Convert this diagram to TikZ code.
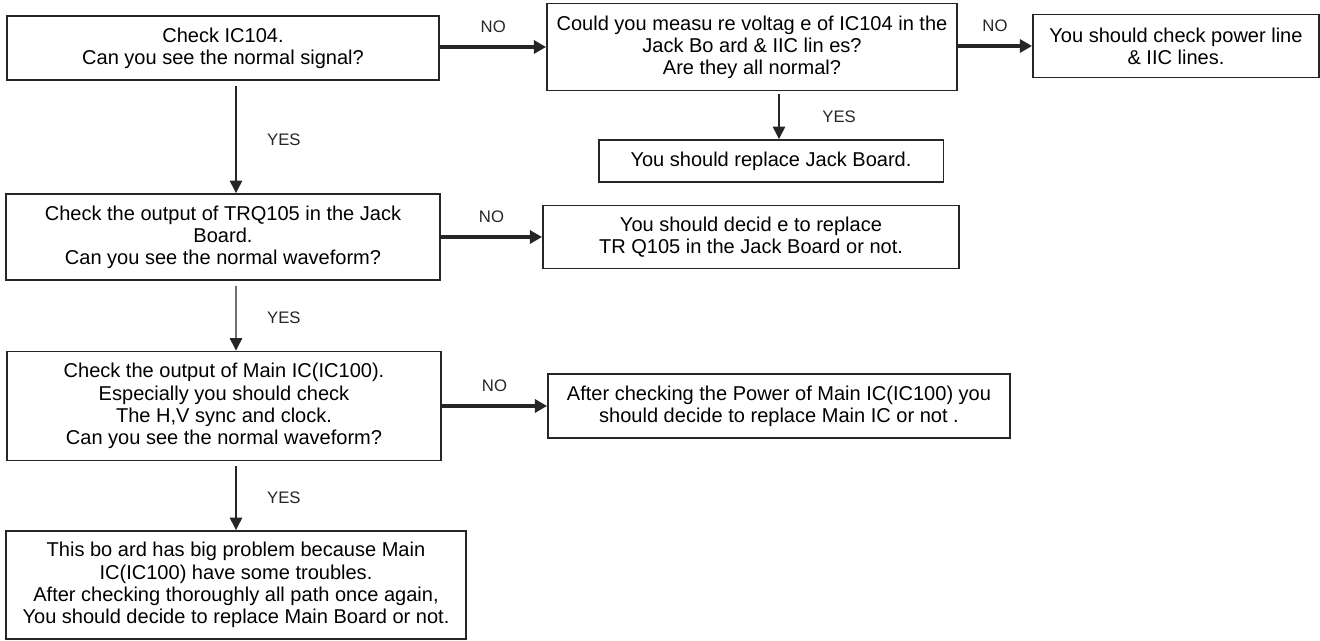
\documentclass[tikz,border=0pt]{standalone}
\usepackage{fontspec}
\setmainfont{Liberation Sans}
\usetikzlibrary{arrows.meta}

\begin{document}
\begin{tikzpicture}[x=0.02cm, y=-0.02cm,
        box/.style={draw=black!85, line width=1.1pt, align=center, inner sep=0pt,
            font=\fontsize{11.4}{12.6}\selectfont},
        yesarrow/.style={-{Triangle[length=7pt, width=7pt]}, line width=0.8pt,
            draw=black!85},
        noarrow/.style={-{Triangle[length=7pt, width=7.5pt]}, line width=1.9pt,
            draw=black!85},
        lbl/.style={font=\fontsize{9.5}{10}\selectfont, text=black!85}]
    \useasboundingbox (0, 0) rectangle (1320, 641);

    \node[box, minimum width=8.66cm, minimum height=1.28cm] (chk104) at (223, 48)
        {Check IC104.\\Can you see the normal signal?};
    \node[box, minimum width=8.2cm, minimum height=1.74cm] (measure) at (752, 47)
        {Could you measu re voltag e of IC104 in the\\Jack Bo ard \& IIC lin es?\\Are they all normal?};
    \node[box, minimum width=5.72cm, minimum height=1.26cm] (power) at (1176, 46)
        {You should check power line\\\& IIC lines.};
    \node[box, minimum width=6.9cm, minimum height=0.84cm] (replace) at (771, 161)
        {You should replace Jack Board.};
    \node[box, minimum width=8.68cm, minimum height=1.72cm] (chktrq) at (223, 237)
        {Check the output of TRQ105 in the Jack\\Board.\\Can you see the normal waveform?};
    \node[box, minimum width=8.32cm, minimum height=1.26cm] (decidetrq) at (751, 237)
        {You should decid e to replace\\TR Q105 in the Jack Board or not.};
    \node[box, minimum width=8.68cm, minimum height=2.18cm] (chkmain) at (224, 406)
        {Check the output of Main IC(IC100).\\Especially you should check\\The H,V sync and clock.\\Can you see the normal waveform?};
    \node[box, minimum width=9.24cm, minimum height=1.28cm] (decidemain) at (779, 406)
        {After checking the Power of Main IC(IC100) you\\should decide to replace Main IC or not .};
    \node[box, minimum width=9.2cm, minimum height=2.16cm] (bigprob) at (236, 585)
        {This bo ard has big problem because Main\\IC(IC100) have some troubles.\\After checking thoroughly all path once again,\\You should decide to replace Main Board or not.};

    % yes branches
    \draw[yesarrow] ([xshift=0.26cm, yshift=-0.1cm]chk104.south)
        -- node[lbl, right=14pt] {YES} ([xshift=0.26cm]chktrq.north);
    \draw[yesarrow] ([xshift=0.26cm, yshift=-0.1cm]chktrq.south)
        -- node[lbl, right=14pt] {YES} ([xshift=0.24cm]chkmain.north);
    \draw[yesarrow] ([yshift=-0.1cm]chkmain.south -| bigprob.north)
        -- node[lbl, right=14pt] {YES} (bigprob.north);
    \draw[yesarrow] ([xshift=0.54cm, yshift=-0.06cm]measure.south)
        -- node[lbl, right=21pt] {YES} ([xshift=0.54cm]measure.south |- replace.north);

    % no branches
    \draw[noarrow] (chk104.east |- measure.west) -- node[lbl, above=4pt] {NO} (measure.west);
    \draw[noarrow] (measure.east |- power.west) -- node[lbl, above=4pt] {NO} (power.west);
    \draw[noarrow] (chktrq.east) -- node[lbl, above=4pt] {NO} (decidetrq.west);
    \draw[noarrow] (chkmain.east) -- node[lbl, above=4pt] {NO} (chkmain.east -| decidemain.west);
\end{tikzpicture}
\end{document}
